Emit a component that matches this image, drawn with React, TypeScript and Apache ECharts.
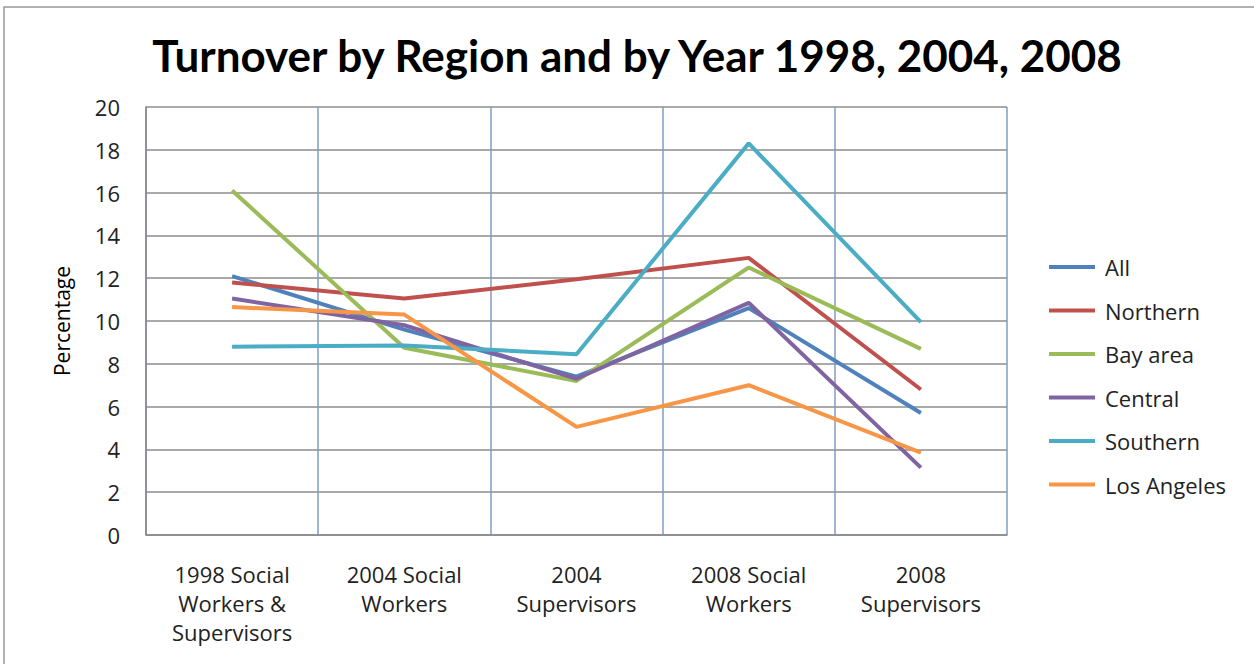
import React, { useEffect, useRef } from "react";
import * as echarts from "echarts";

const categories = [
  "1998 Social\nWorkers &\nSupervisors",
  "2004 Social\nWorkers",
  "2004\nSupervisors",
  "2008 Social\nWorkers",
  "2008\nSupervisors",
];

const allValues = [12.1, 9.6, 7.4, 10.6, 5.7];
const northern = [11.8, 11.05, 11.95, 12.95, 6.8];
const bayArea = [16.1, 8.75, 7.2, 12.5, 8.7];
const central = [11.05, 9.8, 7.3, 10.85, 3.15];
const southern = [8.8, 8.85, 8.45, 18.3, 9.95];
const losAngeles = [10.65, 10.3, 5.05, 7.0, 3.85];

const seriesNames = ["All", "Northern", "Bay area", "Central", "Southern", "Los Angeles"];
const seriesData = [allValues, northern, bayArea, central, southern, losAngeles];
const colors = ["#4F81BD", "#C0504D", "#9BBB59", "#8064A2", "#4BACC6", "#F79646"];

export default function App() {
  const ref = useRef<HTMLDivElement>(null);
  useEffect(() => {
    if (!ref.current) return;
    const chart = echarts.init(ref.current, undefined, { renderer: "svg" });
    const font = "Open Sans";
    chart.setOption({
      animation: false,
      backgroundColor: "#fff",
      title: {
        text: "Turnover by Region and by Year 1998, 2004, 2008",
        left: 632,
        textAlign: "center",
        top: 28,
        textStyle: { fontFamily: "Lato", fontWeight: "bold", fontSize: 44, color: "#000" },
      },
      graphic: [
        {
          type: "rect",
          shape: { x: 4, y: 7, width: 1300, height: 700 },
          style: { fill: "none", stroke: "#999", lineWidth: 1.5 },
          silent: true,
        },
      ],
      legend: {
        orient: "vertical",
        left: 1044,
        top: 249,
        icon: "rect",
        itemWidth: 46,
        itemHeight: 4,
        itemGap: 17.5,
        textStyle: {
          fontFamily: font,
          fontSize: 22,
          color: "#222",
          lineHeight: 26,
          padding: [0, 0, 0, 5],
        },
        data: seriesNames,
      },
      grid: { left: 146, right: 247, top: 107, bottom: 129 },
      xAxis: {
        type: "category",
        data: categories,
        boundaryGap: true,
        axisLine: { lineStyle: { color: "#888", width: 1.5 } },
        axisTick: { show: false },
        splitLine: { show: true, lineStyle: { color: "#7f9dc2", width: 1.5 } },
        axisLabel: {
          fontFamily: font,
          fontSize: 22,
          color: "#222",
          lineHeight: 29,
          margin: 24,
          interval: 0,
        },
      },
      yAxis: {
        type: "value",
        min: 0,
        max: 20,
        interval: 2,
        name: "Percentage",
        nameLocation: "middle",
        nameGap: 74,
        nameTextStyle: { fontFamily: font, fontSize: 21, color: "#000" },
        axisLine: { show: true, lineStyle: { color: "#888", width: 1.5 } },
        axisTick: { show: false },
        splitLine: { lineStyle: { color: "#8c8c8c", width: 1.5 } },
        axisLabel: { fontFamily: font, fontSize: 22, color: "#222", margin: 26 },
      },
      series: seriesNames.map((name, i) => ({
        name,
        type: "line",
        data: seriesData[i],
        symbol: "none",
        color: colors[i],
        lineStyle: { width: 4, color: colors[i] },
      })),
    });
    return () => chart.dispose();
  }, []);
  return (
    <div
      ref={ref}
      style={{ position: "absolute", left: 0, top: 0, width: 1254, height: 664 }}
    />
  );
}
